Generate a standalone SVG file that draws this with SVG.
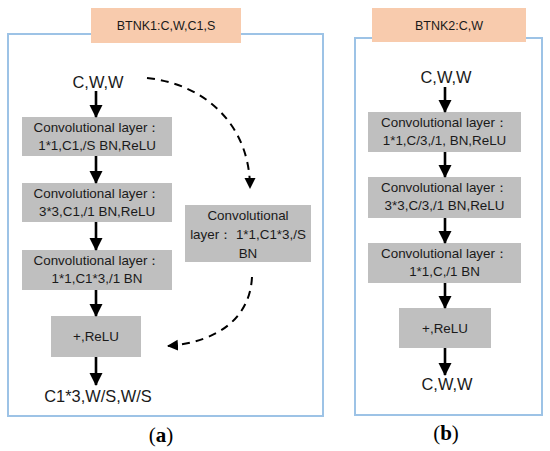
<svg xmlns="http://www.w3.org/2000/svg" width="550" height="451" viewBox="0 0 550 451">
<defs>
<style>
.frame{fill:none;stroke:#9DC3E6;stroke-width:2}
.hdr{fill:#F8CBAD}
.box{fill:#BFBFBF}
.t{font-family:"Liberation Sans",Arial,sans-serif;fill:#1a1a1a;text-anchor:middle}
.bt{font-size:13.4px}
.io{font-size:16.4px}
.ht{font-size:12.5px}
.cap{font-family:"Liberation Serif","Times New Roman",serif;font-size:21px;text-anchor:middle;fill:#000}
.solid{fill:none;stroke:#000;stroke-width:2.6;marker-end:url(#ah)}
.dash{fill:none;stroke:#000;stroke-width:2;stroke-dasharray:8,6;marker-end:url(#ahs)}
</style>
<marker id="ah" markerUnits="userSpaceOnUse" markerWidth="14" markerHeight="14" refX="12" refY="6.5" orient="auto" viewBox="0 0 14 14">
<path d="M0,0 L13,6.5 L0,13 z" fill="#000"/>
</marker>
<marker id="ahs" markerUnits="userSpaceOnUse" markerWidth="12" markerHeight="12" refX="10" refY="5.5" orient="auto" viewBox="0 0 12 12">
<path d="M0,0 L11,5.5 L0,11 z" fill="#000"/>
</marker>
</defs>

<g id="frameA">
<rect class="frame" x="8" y="34" width="315" height="382"/>
</g>
<g id="frameB">
<rect class="frame" x="355" y="38" width="187" height="377"/>
</g>

<g id="hdrA">
<rect class="hdr" x="91" y="8" width="150" height="35"/>
<text class="t ht" x="166" y="30">BTNK1:C,W,C1,S</text>
</g>
<g id="hdrB">
<rect class="hdr" x="372" y="8" width="154" height="34"/>
<text class="t ht" x="449" y="30">BTNK2:C,W</text>
</g>

<g id="inA"><text class="t io" x="98" y="88">C,W,W</text></g>
<g id="a1">
<rect class="box" x="22" y="117" width="150" height="39"/>
<text class="t bt" x="97" y="131.5">Convolutional layer：</text>
<text class="t bt" x="97" y="149.5">1*1,C1,/S BN,ReLU</text>
</g>
<g id="a2">
<rect class="box" x="22" y="183" width="150" height="39"/>
<text class="t bt" x="97" y="197.5">Convolutional layer：</text>
<text class="t bt" x="97" y="215.5">3*3,C1,/1 BN,ReLU</text>
</g>
<g id="a3">
<rect class="box" x="22" y="250" width="150" height="40"/>
<text class="t bt" x="97" y="264.5">Convolutional layer：</text>
<text class="t bt" x="97" y="282.5">1*1,C1*3,/1 BN</text>
</g>
<g id="a4">
<rect class="box" x="51" y="316" width="90" height="41"/>
<text class="t bt" x="96" y="341">+,ReLU</text>
</g>
<g id="a5">
<rect class="box" x="185" y="205" width="126" height="57"/>
<text class="t bt" x="248" y="220">Convolutional</text>
<text class="t bt" x="248" y="239">layer：  1*1,C1*3,/S</text>
<text class="t bt" x="248" y="258">BN</text>
</g>
<g id="outA"><text class="t io" x="98" y="402">C1*3,W/S,W/S</text></g>

<g id="inB"><text class="t io" x="446" y="83">C,W,W</text></g>
<g id="b1">
<rect class="box" x="368" y="112" width="153" height="40"/>
<text class="t bt" x="444.5" y="126.5">Convolutional layer：</text>
<text class="t bt" x="444.5" y="144.5">1*1,C/3,/1, BN,ReLU</text>
</g>
<g id="b2">
<rect class="box" x="368" y="177" width="153" height="41"/>
<text class="t bt" x="444.5" y="191.5">Convolutional layer：</text>
<text class="t bt" x="444.5" y="209.5">3*3,C/3,/1 BN,ReLU</text>
</g>
<g id="b3">
<rect class="box" x="368" y="243" width="153" height="40"/>
<text class="t bt" x="444.5" y="257.5">Convolutional layer：</text>
<text class="t bt" x="444.5" y="275.5">1*1,C,/1 BN</text>
</g>
<g id="b4">
<rect class="box" x="399" y="308" width="92" height="40"/>
<text class="t bt" x="445" y="333">+,ReLU</text>
</g>
<g id="outB"><text class="t io" x="447" y="390">C,W,W</text></g>

<g id="connectors">
<line class="solid" x1="96" y1="91" x2="96" y2="117"/>
<line class="solid" x1="96" y1="156" x2="96" y2="183"/>
<line class="solid" x1="96" y1="222" x2="96" y2="250"/>
<line class="solid" x1="96" y1="290" x2="96" y2="316"/>
<line class="solid" x1="96" y1="357" x2="96" y2="385"/>
<path class="dash" d="M147,78 C205,84 250,125 250,188"/>
<path class="dash" d="M252,277 C250,318 218,342 168,346"/>
<line class="solid" x1="445" y1="87" x2="445" y2="112"/>
<line class="solid" x1="445" y1="152" x2="445" y2="177"/>
<line class="solid" x1="445" y1="218" x2="445" y2="243"/>
<line class="solid" x1="445" y1="283" x2="445" y2="308"/>
<line class="solid" x1="445" y1="348" x2="445" y2="375"/>
</g>

<g id="captions">
<text class="cap" x="161" y="442">(<tspan font-weight="bold">a</tspan>)</text>
<text class="cap" x="446" y="440">(<tspan font-weight="bold">b</tspan>)</text>
</g>
</svg>
